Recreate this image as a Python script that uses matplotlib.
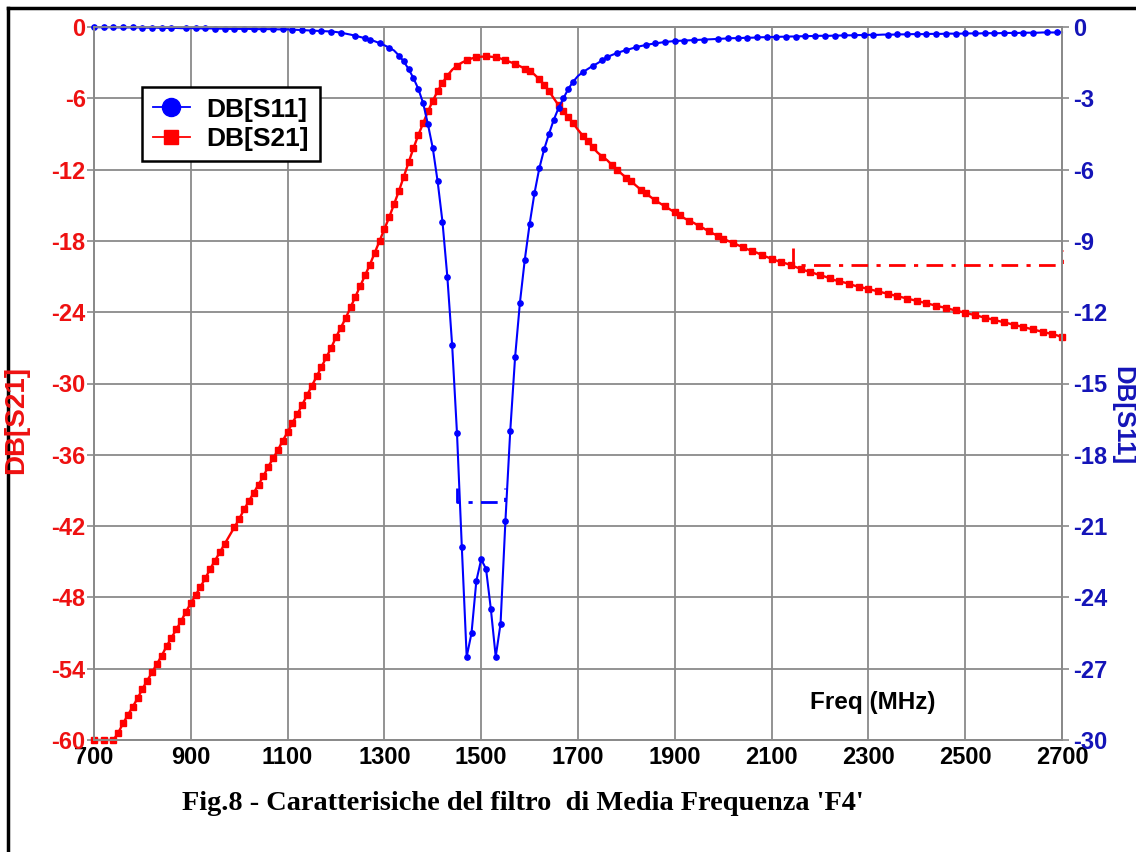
import matplotlib
matplotlib.use("Agg")
import matplotlib.pyplot as plt
from matplotlib.lines import Line2D
import numpy as np

# frequency sweep, MHz (10 MHz step)
freq = np.arange(700, 2701, 10)

# DB[S11], right axis
s11 = [
    0.0, -0.01, -0.01, -0.01, -0.01, -0.02, -0.02, -0.02, -0.02, -0.02,
    -0.03, -0.03, -0.03, -0.03, -0.04, -0.04, -0.04, -0.04, -0.05, -0.05,
    -0.05, -0.05, -0.06, -0.06, -0.06, -0.07, -0.07, -0.07, -0.08, -0.08,
    -0.08, -0.08, -0.08, -0.09, -0.09, -0.09, -0.09, -0.09, -0.10, -0.10,
    -0.10, -0.11, -0.12, -0.13, -0.14, -0.15, -0.16, -0.17, -0.18, -0.19,
    -0.21, -0.24, -0.28, -0.32, -0.37, -0.42, -0.47, -0.53, -0.60, -0.68,
    -0.77, -0.87, -0.99, -1.20, -1.45, -1.77, -2.15, -2.60, -3.20, -4.10,
    -5.10, -6.50, -8.20, -10.5, -13.4, -17.1, -21.9, -26.5, -25.5, -23.3,
    -22.4, -22.8, -24.5, -26.5, -25.1, -20.8, -17.0, -13.9, -11.6, -9.8,
    -8.3, -7.0, -5.95, -5.15, -4.5, -3.9, -3.4, -3.0, -2.6, -2.3,
    -2.06, -1.9, -1.77, -1.64, -1.53, -1.40, -1.27, -1.18, -1.10, -1.03,
    -0.97, -0.91, -0.85, -0.80, -0.76, -0.72, -0.69, -0.66, -0.63, -0.61,
    -0.59, -0.58, -0.57, -0.56, -0.55, -0.54, -0.53, -0.52, -0.51, -0.50,
    -0.49, -0.48, -0.47, -0.47, -0.46, -0.45, -0.45, -0.44, -0.43, -0.43,
    -0.42, -0.42, -0.41, -0.41, -0.40, -0.40, -0.39, -0.39, -0.38, -0.38,
    -0.37, -0.37, -0.37, -0.36, -0.36, -0.35, -0.35, -0.35, -0.34, -0.34,
    -0.33, -0.33, -0.33, -0.32, -0.32, -0.32, -0.31, -0.31, -0.31, -0.30,
    -0.30, -0.30, -0.30, -0.29, -0.29, -0.29, -0.28, -0.28, -0.28, -0.28,
    -0.27, -0.27, -0.27, -0.27, -0.26, -0.26, -0.26, -0.26, -0.25, -0.25,
    -0.25, -0.25, -0.24, -0.24, -0.24, -0.24, -0.23, -0.23, -0.23, -0.23,
    -0.22,
]

# DB[S21], left axis
s21 = [
    -60, -60, -60, -60, -60, -59.4, -58.6, -57.9, -57.2, -56.5,
    -55.7, -55.0, -54.3, -53.6, -52.9, -52.1, -51.4, -50.7, -50.0, -49.2,
    -48.5, -47.8, -47.1, -46.4, -45.6, -44.9, -44.2, -43.5, -42.8, -42.1,
    -41.4, -40.6, -39.9, -39.2, -38.5, -37.8, -37.0, -36.3, -35.6, -34.8,
    -34.1, -33.3, -32.6, -31.8, -31.0, -30.2, -29.4, -28.6, -27.8, -27.0,
    -26.1, -25.3, -24.5, -23.6, -22.7, -21.8, -20.9, -20.0, -19.0, -18.0,
    -17.0, -16.0, -14.9, -13.8, -12.6, -11.4, -10.2, -9.1, -8.1, -7.1,
    -6.2, -5.4, -4.7, -4.1, -3.6, -3.25, -3.0, -2.8, -2.65, -2.55,
    -2.5, -2.48, -2.5, -2.55, -2.65, -2.8, -2.95, -3.1, -3.3, -3.5,
    -3.7, -4.0, -4.4, -4.85, -5.4, -6.0, -6.6, -7.1, -7.6, -8.1,
    -8.65, -9.15, -9.6, -10.1, -10.55, -10.9, -11.2, -11.6, -12.0, -12.35,
    -12.7, -13.0, -13.35, -13.7, -14.0, -14.3, -14.6, -14.85, -15.1, -15.35,
    -15.6, -15.85, -16.1, -16.3, -16.5, -16.75, -16.95, -17.2, -17.4, -17.6,
    -17.8, -18.0, -18.15, -18.35, -18.5, -18.7, -18.85, -19.0, -19.2, -19.35,
    -19.5, -19.65, -19.8, -19.9, -20.05, -20.2, -20.35, -20.5, -20.6, -20.75,
    -20.9, -21.0, -21.15, -21.3, -21.4, -21.5, -21.6, -21.75, -21.85, -21.95,
    -22.05, -22.15, -22.25, -22.35, -22.45, -22.55, -22.65, -22.75, -22.85, -22.95,
    -23.05, -23.15, -23.25, -23.35, -23.45, -23.55, -23.65, -23.75, -23.85, -23.95,
    -24.05, -24.15, -24.25, -24.35, -24.45, -24.55, -24.65, -24.75, -24.85, -24.95,
    -25.05, -25.15, -25.25, -25.35, -25.45, -25.55, -25.65, -25.75, -25.85, -25.95,
    -26.1,
]

# -20 dB bandwidth markers
s11_mark_f = [1450, 1450, 1550, 1550]
s11_mark_db = [-19.4, -20.0, -20.0, -19.4]
s21_mark_f = [2145, 2145, 2700, 2700]
s21_mark_db = [-18.6, -20.0, -20.0, -18.8]

x_ticks = np.arange(700, 2701, 200)
left_ticks = np.arange(-60, 1, 6)
right_ticks = np.arange(-30, 1, 3)

RED = "#ff0000"
BLUE = "#0000ff"
RED_TXT = "#ee1111"
BLUE_TXT = "#1414b8"
GRID = "#8a8a8a"
SANS = "Liberation Sans"

fig = plt.figure(figsize=(11.36, 8.52), dpi=100)
ax = fig.add_axes([94 / 1136, 1 - 740 / 852, 968 / 1136, 713 / 852])
ax2 = ax.twinx()

ax.plot(freq, s21, color=RED, lw=1.7, marker="s", ms=4.6, markevery=0.0083,
        clip_on=False, label="DB[S21]")
ax2.plot(freq, s11, color=BLUE, lw=1.5, marker="o", ms=3.8, markevery=0.0083,
         clip_on=False, label="DB[S11]")

ax.plot(s21_mark_f, s21_mark_db, color=RED, lw=2.0, ls=(0, (6, 3, 1.5, 3)), clip_on=False)
ax2.plot(s11_mark_f, s11_mark_db, color=BLUE, lw=2.0, ls=(0, (6, 3, 1.5, 3)), clip_on=False)

ax.set_xlim(700, 2700)
ax.set_ylim(-60, 0)
ax2.set_ylim(-30, 0)
ax.set_xticks(x_ticks)
ax.set_yticks(left_ticks)
ax2.set_yticks(right_ticks)
ax.set_xticklabels([str(v) for v in x_ticks])
ax.set_yticklabels([str(v) for v in left_ticks])
ax2.set_yticklabels([str(v) for v in right_ticks])

ax.grid(True, color=GRID, lw=1.3)
for a in (ax, ax2):
    for sp in a.spines.values():
        sp.set_color(GRID)
        sp.set_linewidth(1.3)
ax.tick_params(axis="x", colors=GRID, labelcolor="black", length=0, pad=4.5)
ax.tick_params(axis="y", colors=GRID, labelcolor=RED_TXT, length=5, width=1.2, pad=1)
ax2.tick_params(axis="y", colors=GRID, labelcolor=BLUE_TXT, length=5, width=1.2, pad=3)
for lab in ax.get_xticklabels() + ax.get_yticklabels() + ax2.get_yticklabels():
    lab.set_fontfamily(SANS)
    lab.set_fontweight("bold")
    lab.set_fontsize(17)

# legend
h_s11 = Line2D([], [], color=BLUE, lw=1.3, marker="o", ms=13)
h_s21 = Line2D([], [], color=RED, lw=1.3, marker="s", ms=10)
leg = ax2.legend([h_s11, h_s21], ["DB[S11]", "DB[S21]"], loc="upper left",
                 bbox_to_anchor=(48 / 968, 653 / 713), borderaxespad=0,
                 fancybox=False, framealpha=1, edgecolor="black",
                 handlelength=1.4, handletextpad=0.65, labelspacing=0.2,
                 borderpad=0.4, prop={"family": SANS, "weight": "bold", "size": 19})
leg.get_frame().set_linewidth(1.8)

ax.text(0.804, 0.053, "Freq (MHz)", transform=ax.transAxes, ha="center", va="center",
        fontfamily=SANS, fontweight="bold", fontsize=17.5)

fig.text(16 / 1136, 1 - 420 / 852, "DB[S21]", rotation=90, ha="center", va="center",
         color=RED_TXT, fontfamily=SANS, fontweight="bold", fontsize=20)
fig.text(1122 / 1136, 1 - 416 / 852, "DB[S11]", rotation=270, ha="center", va="center",
         color=BLUE_TXT, fontfamily=SANS, fontweight="bold", fontsize=18.5)

fig.text(182 / 1136, 1 - 804 / 852,
         "Fig.8 - Caratterisiche del filtro  di Media Frequenza 'F4'",
         ha="left", va="center", fontfamily="Liberation Serif", fontweight="bold",
         fontsize=20.4)

# outer frame (top and left edges visible)
fig.add_artist(Line2D([8 / 1136, 1.0], [1 - 8 / 852, 1 - 8 / 852],
                      transform=fig.transFigure, color="black", lw=2.5))
fig.add_artist(Line2D([8 / 1136, 8 / 1136], [0.0, 1 - 8 / 852],
                      transform=fig.transFigure, color="black", lw=2.5))

fig.savefig("out.png", dpi=100)
